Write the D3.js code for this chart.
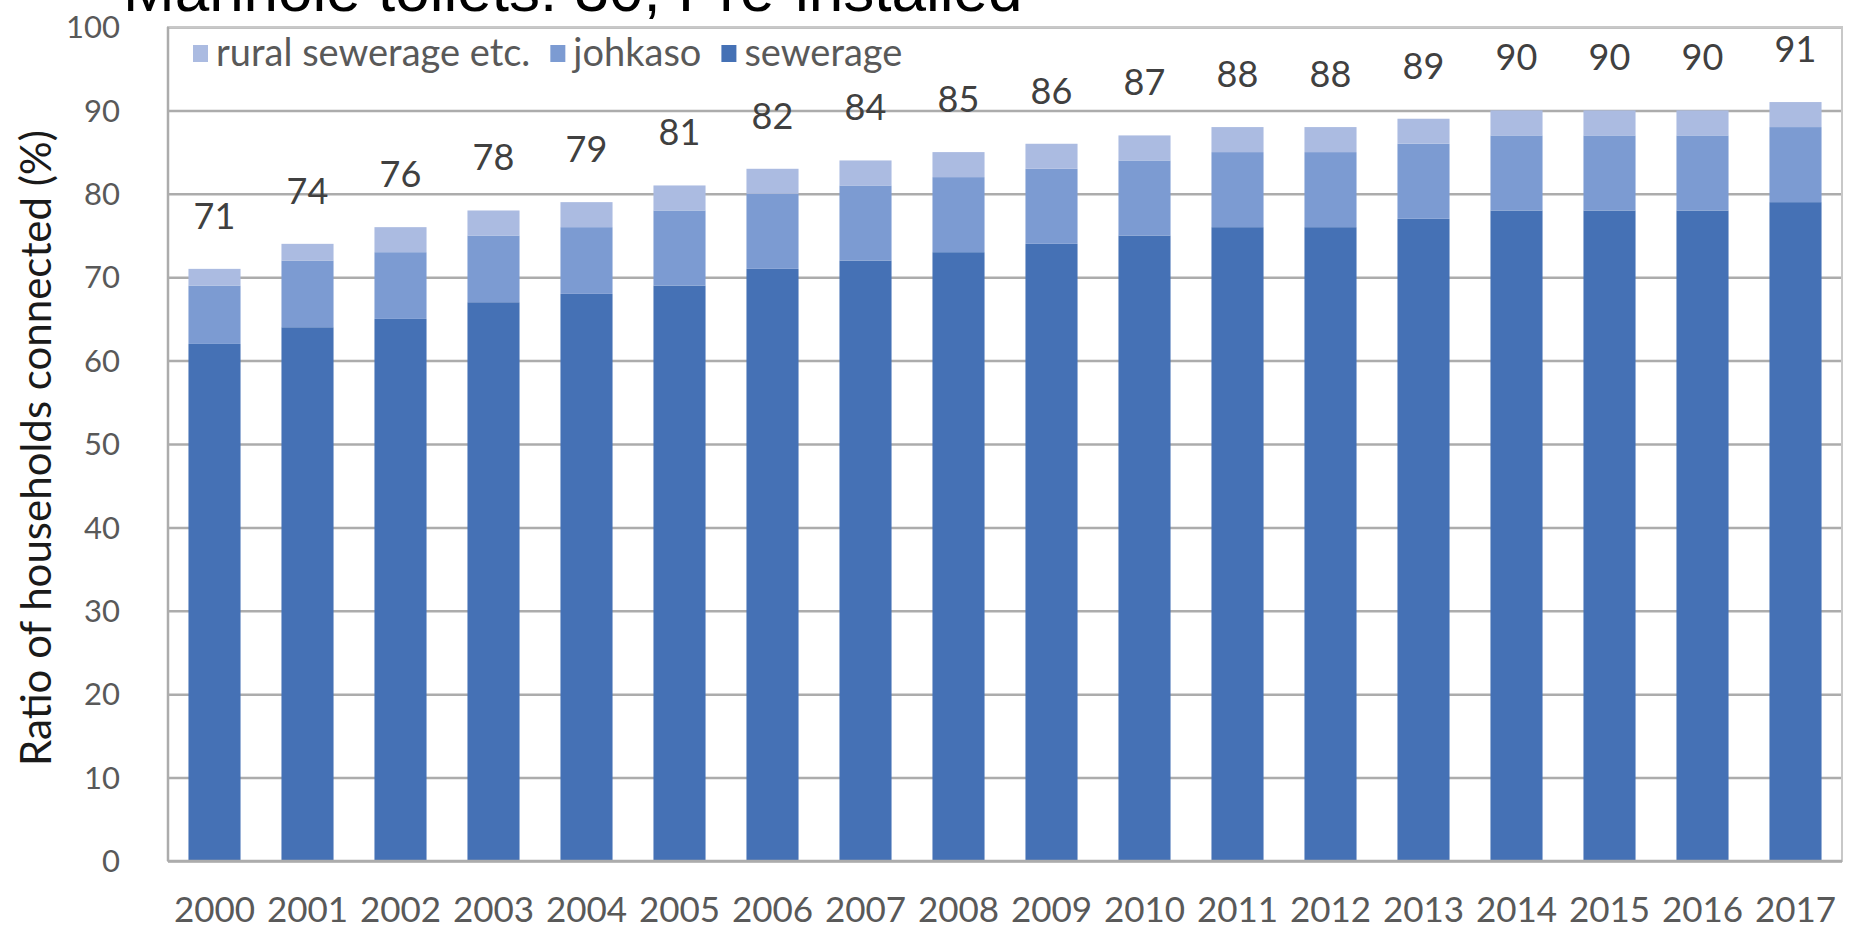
<!DOCTYPE html>
<html>
<head>
<meta charset="utf-8">
<script src="https://cdn.jsdelivr.net/npm/d3@7"></script>
<style>
  body { margin: 0; background: #fff; }
  svg { display: block; }
  .lbl { font-family: Lato, "Open Sans", sans-serif; }
</style>
</head>
<body>
<div id="chart"></div>
<script>
const years = ["2000", "2001", "2002", "2003", "2004", "2005", "2006", "2007", "2008",
  "2009", "2010", "2011", "2012", "2013", "2014", "2015", "2016", "2017"];
const sewerage = [62, 64, 65, 67, 68, 69, 71, 72, 73, 74, 75, 76, 76, 77, 78, 78, 78, 79];
const johkaso = [7, 8, 8, 8, 8, 9, 9, 9, 9, 9, 9, 9, 9, 9, 9, 9, 9, 9];
const rural = [2, 2, 3, 3, 3, 3, 3, 3, 3, 3, 3, 3, 3, 3, 3, 3, 3, 3];
const totalLabels = [71, 74, 76, 78, 79, 81, 82, 84, 85, 86, 87, 88, 88, 89, 90, 90, 90, 91];
const yTicks = [0, 10, 20, 30, 40, 50, 60, 70, 80, 90, 100];
const seriesNames = ["rural sewerage etc.", "johkaso", "sewerage"];

const W = 1850, H = 930;
const margin = {top: 27, right: 8, bottom: 69, left: 168};
const width = W - margin.left - margin.right;
const height = H - margin.top - margin.bottom;

const colors = {sewerage: "#4571b5", johkaso: "#7c9bd2", rural: "#abbbe1"};

const svg = d3.select("#chart").append("svg")
  .attr("width", W)
  .attr("height", H);

const x = d3.scaleBand().domain(years).range([margin.left, margin.left + width])
  .paddingInner(0.44).paddingOuter(0.22);
const y = d3.scaleLinear().domain([0, 100]).range([margin.top + height, margin.top]);

// title, cut off at the top edge
svg.append("text")
  .text("Manhole toilets: 30, Pre-installed")
  .attr("x", 123)
  .attr("y", 11)
  .attr("font-family", "'Liberation Sans', Arial, sans-serif")
  .attr("font-size", 62)
  .attr("fill", "#000");

// gridlines
svg.append("g")
  .attr("transform", "translate(" + margin.left + ",0)")
  .call(d3.axisLeft(y).tickValues(yTicks).tickSize(-width).tickFormat(""))
  .call(g => g.select(".domain").remove())
  .call(g => g.selectAll("line").attr("stroke", "#acacac").attr("stroke-width", 2.5));

// plot frame
svg.append("rect")
  .attr("x", margin.left).attr("y", margin.top)
  .attr("width", width).attr("height", height)
  .attr("fill", "none")
  .attr("stroke", "#c8c8c8")
  .attr("stroke-width", 2);

// stacked bars
const table = years.map((yr, i) => ({year: yr, sewerage: sewerage[i], johkaso: johkaso[i], rural: rural[i]}));
const stack = d3.stack().keys(["sewerage", "johkaso", "rural"])(table);

svg.append("g").selectAll("g")
  .data(stack)
  .enter().append("g")
  .attr("fill", d => colors[d.key])
  .selectAll("rect")
  .data(d => d)
  .enter().append("rect")
  .attr("x", d => x(d.data.year))
  .attr("width", x.bandwidth())
  .attr("y", d => y(d[1]))
  .attr("height", d => y(d[0]) - y(d[1]));

// axis lines
svg.append("line")
  .attr("x1", margin.left).attr("x2", margin.left)
  .attr("y1", margin.top).attr("y2", margin.top + height)
  .attr("stroke", "#acacac").attr("stroke-width", 2.5);
svg.append("line")
  .attr("x1", margin.left).attr("x2", margin.left + width)
  .attr("y1", margin.top + height).attr("y2", margin.top + height)
  .attr("stroke", "#acacac").attr("stroke-width", 2.5);

// y tick labels
svg.append("g").selectAll("text")
  .data(yTicks)
  .enter().append("text")
  .attr("class", "lbl")
  .attr("x", 120)
  .attr("y", d => y(d))
  .attr("dy", "0.36em")
  .attr("text-anchor", "end")
  .attr("font-size", 31)
  .attr("fill", "#595959")
  .text(d => d);

// x labels
svg.append("g").selectAll("text")
  .data(years)
  .enter().append("text")
  .attr("class", "lbl")
  .attr("x", d => x(d) + x.bandwidth() / 2)
  .attr("y", 922)
  .attr("text-anchor", "middle")
  .attr("font-size", 35)
  .attr("fill", "#595959")
  .text(d => d);

// total labels above bars
svg.append("g").selectAll("text")
  .data(table)
  .enter().append("text")
  .attr("class", "lbl")
  .attr("x", d => x(d.year) + x.bandwidth() / 2)
  .attr("y", d => y(d.sewerage + d.johkaso + d.rural) - 40)
  .attr("text-anchor", "middle")
  .attr("font-size", 36)
  .attr("fill", "#404040")
  .text((d, i) => totalLabels[i]);

// y axis title
svg.append("text")
  .attr("class", "lbl")
  .attr("transform", "translate(51," + (margin.top + height / 2 + 4) + ") rotate(-90)")
  .attr("text-anchor", "middle")
  .attr("font-size", 42)
  .attr("fill", "#1a1a1a")
  .text("Ratio of households connected (%)");

// legend
const legendColors = [colors.rural, colors.johkaso, colors.sewerage];
let lx = 193;
seriesNames.forEach((name, i) => {
  svg.append("rect")
    .attr("x", lx).attr("y", 45)
    .attr("width", 15).attr("height", 17)
    .attr("fill", legendColors[i]);
  const t = svg.append("text")
    .attr("class", "lbl")
    .attr("x", lx + 23)
    .attr("y", 66)
    .attr("font-size", 38)
    .attr("fill", "#595959")
    .text(name);
  lx += 23 + t.node().getComputedTextLength() + 20;
});
</script>
</body>
</html>
